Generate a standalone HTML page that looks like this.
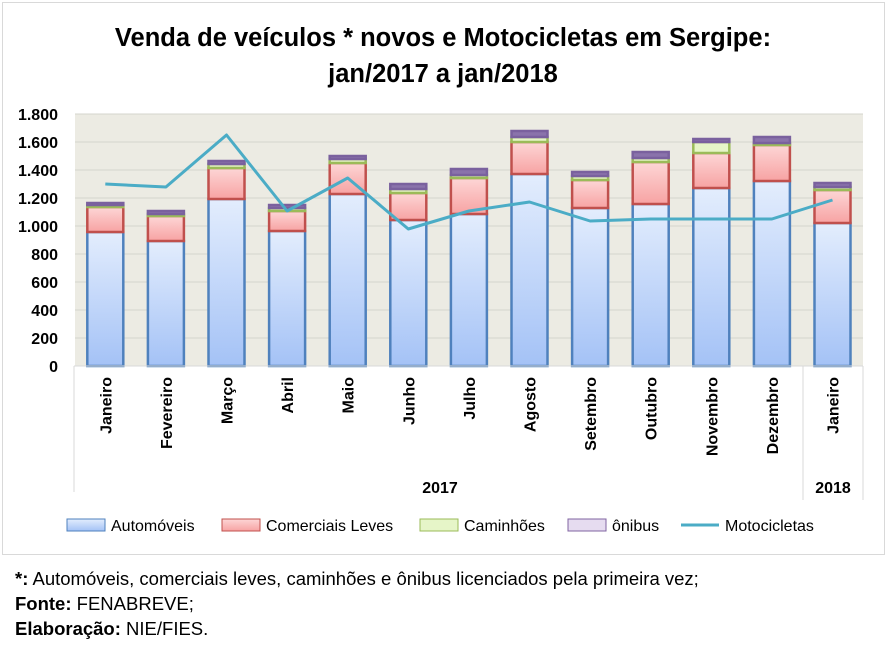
<!DOCTYPE html>
<html><head><meta charset="utf-8"><style>
body{margin:0;background:#fff;}
svg text{font-family:"Liberation Sans",sans-serif;}
</style></head><body>
<svg width="887" height="652" viewBox="0 0 887 652" xmlns="http://www.w3.org/2000/svg">
<defs>
<linearGradient id="gb" x1="0" y1="0" x2="0" y2="1"><stop offset="0" stop-color="#e3edfd"/><stop offset="1" stop-color="#a4c2f6"/></linearGradient>
<linearGradient id="gr" x1="0" y1="0" x2="0" y2="1"><stop offset="0" stop-color="#fdd6d6"/><stop offset="1" stop-color="#f7a3a3"/></linearGradient>
</defs>
<rect x="2.5" y="2.5" width="882" height="552" fill="#fff" stroke="#d9d9d9"/>
<text x="443" y="46" font-size="25.5" font-weight="bold" text-anchor="middle" fill="#000">Venda de veículos * novos e Motocicletas  em Sergipe:</text>
<text x="443" y="82" font-size="25.5" font-weight="bold" text-anchor="middle" fill="#000">jan/2017 a jan/2018</text>
<rect x="75" y="114" width="788" height="252" fill="#ecebe3"/>
<g stroke="#d5d4cc" stroke-width="1">
<line x1="75" x2="863" y1="114" y2="114"/><line x1="75" x2="863" y1="142" y2="142"/><line x1="75" x2="863" y1="170" y2="170"/><line x1="75" x2="863" y1="198" y2="198"/><line x1="75" x2="863" y1="226" y2="226"/><line x1="75" x2="863" y1="254" y2="254"/><line x1="75" x2="863" y1="282" y2="282"/><line x1="75" x2="863" y1="310" y2="310"/><line x1="75" x2="863" y1="338" y2="338"/>
</g>
<g font-size="16" font-weight="bold" text-anchor="end" fill="#000">
<text x="58" y="120">1.800</text><text x="58" y="148">1.600</text><text x="58" y="176">1.400</text><text x="58" y="204">1.200</text><text x="58" y="232">1.000</text><text x="58" y="260">800</text><text x="58" y="288">600</text><text x="58" y="316">400</text><text x="58" y="344">200</text><text x="58" y="372">0</text>
</g>
<g id="bars" stroke-width="2.5"></g>
<line x1="74" y1="366" x2="74" y2="492" stroke="#d9d9d9"/>
<line x1="803" y1="366" x2="803" y2="500" stroke="#d9d9d9"/>
<line x1="863" y1="366" x2="863" y2="500" stroke="#d9d9d9"/>
<line x1="74" y1="366" x2="863" y2="366" stroke="#d9d9d9"/>
<g id="labels" font-size="16" font-weight="bold" fill="#000"></g>
<text x="440" y="493" font-size="16" font-weight="bold" text-anchor="middle">2017</text>
<text x="833" y="493" font-size="16" font-weight="bold" text-anchor="middle">2018</text>
<polyline id="moto" fill="none" stroke="#4bacc6" stroke-width="3" stroke-linejoin="round"/>
<g font-size="16" fill="#000">
<rect x="67" y="519" width="38" height="12" fill="url(#gb)" stroke="#4f81bd"/><text x="111" y="531">Automóveis</text>
<rect x="222" y="519" width="38" height="12" fill="url(#gr)" stroke="#c0504d"/><text x="266" y="531">Comerciais Leves</text>
<rect x="420" y="519" width="38" height="12" fill="#e6f5c8" stroke="#9bbb59"/><text x="464" y="531">Caminhões</text>
<rect x="568" y="519" width="38" height="12" fill="#e6dcf0" stroke="#8064a2"/><text x="612" y="531">ônibus</text>
<line x1="681" y1="525" x2="719" y2="525" stroke="#4bacc6" stroke-width="3"/><text x="725" y="531">Motocicletas</text>
</g>
<g font-size="18.5" fill="#000">
<text x="15" y="585"><tspan font-weight="bold">*:</tspan> Automóveis, comerciais leves, caminhões e ônibus licenciados pela primeira vez;</text>
<text x="15" y="610"><tspan font-weight="bold">Fonte:</tspan> FENABREVE;</text>
<text x="15" y="635"><tspan font-weight="bold">Elaboração:</tspan> NIE/FIES.</text>
</g>
<script>
var names=["Janeiro","Fevereiro","Março","Abril","Maio","Junho","Julho","Agosto","Setembro","Outubro","Novembro","Dezembro","Janeiro"];
var t=[[232,207,205,203],[241,216,214,211],[199,168,164,161],[231,211,208,205],[194,163,159,156],[220,193,189,184],[214,178,175,169],[174,142,137,131],[208,180,176,172],[204,162,158,152],[188,153,142,139],[181,145,143,137],[223,190,187,183]];
var m=[184,187,135,211,178,229,211,202,221,219,219,219,200];
var ns="http://www.w3.org/2000/svg",g=document.getElementById("bars"),L=document.getElementById("labels"),pts=[];
function r(x,y,w,h,f,s){var e=document.createElementNS(ns,"rect");e.setAttribute("x",x);e.setAttribute("y",y);e.setAttribute("width",w);e.setAttribute("height",h);e.setAttribute("fill",f);e.setAttribute("stroke",s);g.appendChild(e);}
for(var i=0;i<13;i++){var c=75+60.6*(i+0.5),x=c-18,w=36,b=t[i];
r(x,b[0],w,366-b[0],"url(#gb)","#4f81bd");
r(x,b[1],w,b[0]-b[1],"url(#gr)","#c0504d");
r(x,b[2],w,b[1]-b[2],"#e6f5c8","#9bbb59");
r(x,b[3],w,b[2]-b[3],"#8a73ab","#7a619e");
pts.push(c+","+m[i]);
var tx=document.createElementNS(ns,"text");tx.setAttribute("transform","translate("+(c+6)+",377) rotate(-90)");tx.setAttribute("text-anchor","end");tx.textContent=names[i];L.appendChild(tx);}
document.getElementById("moto").setAttribute("points",pts.join(" "));
</script>
</svg>
</body></html>
